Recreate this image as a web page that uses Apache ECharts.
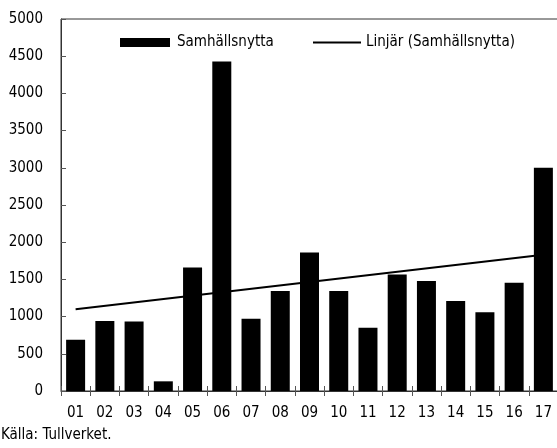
<!DOCTYPE html>
<html>
<head>
<meta charset="utf-8">
<script src="https://cdn.jsdelivr.net/npm/echarts@6/dist/echarts.min.js"></script>
<style>
  html, body { margin: 0; padding: 0; background: #fff; }
  #chart { width: 557px; height: 448px; }
</style>
</head>
<body>
<div id="chart"></div>
<script>
// kategorier (år)
var years = ['01', '02', '03', '04', '05', '06', '07', '08', '09', '10', '11', '12', '13', '14', '15', '16', '17']
// samhällsnytta per år
var nytta = [690, 940, 935, 130, 1660, 4430, 970, 1345, 1860, 1345, 850, 1565, 1480, 1210, 1060, 1455, 3000]
// linjär trend, avläst vid första och sista året
var trend = [1100, null, null, null, null, null, null, null, null, null, null, null, null, null, null, null, 1830]
var yTicks = [0, 500, 1000, 1500, 2000, 2500, 3000, 3500, 4000, 4500, 5000]

var font = "'DejaVu Sans Condensed', sans-serif"
var chart = echarts.init(document.getElementById('chart'))

var option = {
  animation: false,
  textStyle: { fontFamily: font },
  grid: {
    left: 61, right: -1, top: 19, bottom: 57,
    outerBoundsMode: 'none',
    show: true, borderColor: '#333', borderWidth: 1
  },
  legend: [
    {
      left: 120, top: 35, padding: 0,
      itemWidth: 50, itemHeight: 9,
      textStyle: { fontFamily: font, fontSize: 15, color: '#000', padding: [0, 0, 0, 2] },
      data: [{ name: 'Samhällsnytta', icon: 'rect' }]
    },
    {
      left: 313, top: 35, padding: 0,
      itemWidth: 48, itemHeight: 2,
      textStyle: { fontFamily: font, fontSize: 15, color: '#000' },
      data: [{ name: 'Linjär (Samhällsnytta)', icon: 'rect' }]
    }
  ],
  xAxis: [
    {
      type: 'category',
      data: years,
      axisLine: { lineStyle: { color: '#333' } },
      axisTick: { show: true, length: 5, lineStyle: { color: '#555' } },
      axisLabel: { fontFamily: font, fontSize: 15, color: '#000', margin: 15 }
    },
    {
      type: 'category',
      data: years,
      position: 'bottom',
      axisLine: { show: false },
      axisTick: { show: true, inside: true, length: 5, lineStyle: { color: '#555' } },
      axisLabel: { show: false }
    }
  ],
  yAxis: {
    type: 'value',
    min: yTicks[0],
    max: yTicks[yTicks.length - 1],
    interval: 500,
    splitLine: { show: false },
    axisLine: { show: true, lineStyle: { color: '#333' } },
    axisTick: { show: true, inside: true, length: 5, lineStyle: { color: '#555' } },
    axisLabel: {
      fontFamily: font, fontSize: 15, color: '#000', margin: 18,
      formatter: function (v) { return String(v) }
    }
  },
  series: [
    {
      name: 'Samhällsnytta',
      type: 'bar',
      data: nytta,
      barWidth: 19,
      itemStyle: { color: '#000' }
    },
    {
      name: 'Linjär (Samhällsnytta)',
      type: 'line',
      data: trend,
      connectNulls: true,
      symbol: 'none',
      z: 1,
      lineStyle: { color: '#000', width: 2 },
      itemStyle: { color: '#000' }
    }
  ],
  graphic: [
    {
      type: 'text',
      left: 1, top: 428,
      style: { text: 'Källa: Tullverket.', fontFamily: font, fontSize: 15, fill: '#000' }
    }
  ]
}

chart.setOption(option)
</script>
</body>
</html>
